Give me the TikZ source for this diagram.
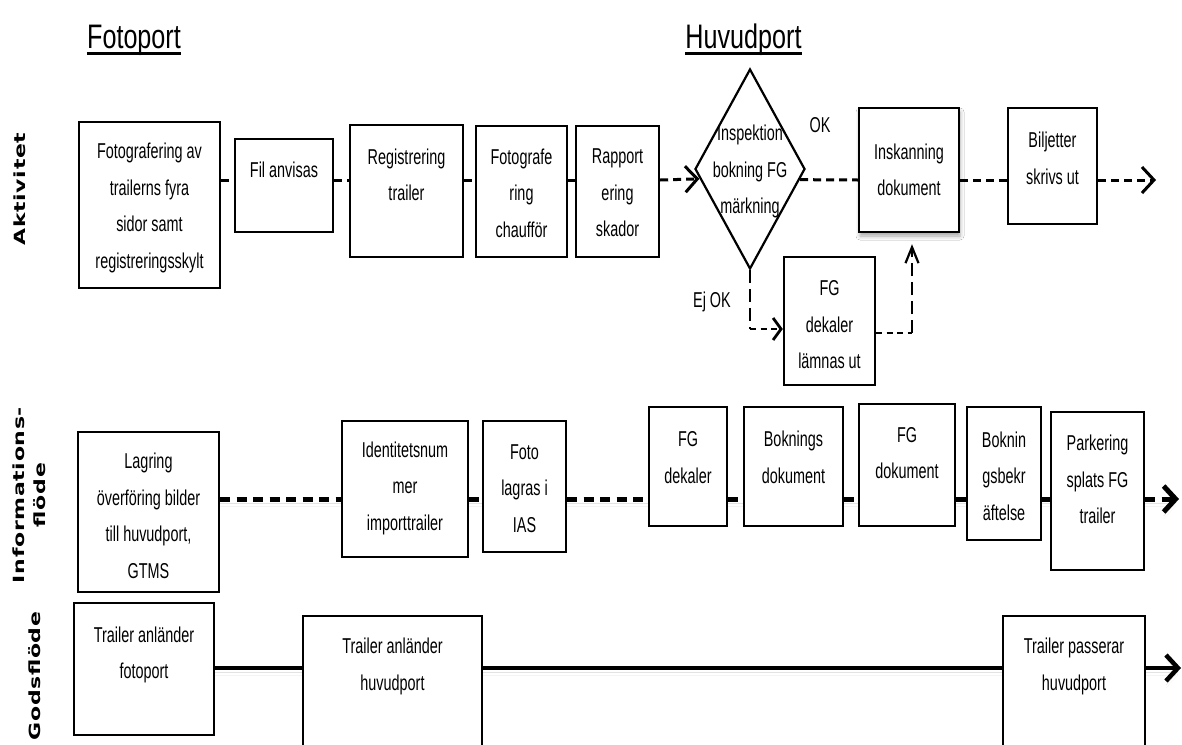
\documentclass[tikz,border=0pt]{standalone}
\usepackage{fontspec}
\usepackage{graphicx}
\usetikzlibrary{arrows.meta,shapes.geometric,shadows.blur}
\newfontfamily\boxfont{Liberation Sans}[FakeStretch=0.67]
\newfontfamily\titlefont{Liberation Sans}[FakeStretch=0.74]
\newfontfamily\sidefont{DejaVu Sans}[LetterSpace=3]

\tikzset{
  box/.style={draw, line width=2.4pt, fill=white, inner sep=0pt},
  gate/.style={diamond, draw, line width=2.2pt, fill=white, inner sep=0pt},
  txt/.style={font=\boxfont\fontsize{21.5}{36.5}\selectfont, align=center, inner sep=0pt},
  ttl/.style={font=\titlefont\fontsize{34}{38}\selectfont, inner sep=0pt, anchor=base},
  lane/.style={font=\sidefont\bfseries\fontsize{22}{21}\selectfont, rotate=90, align=center, inner sep=0pt},
  actflow/.style={line width=3pt, dash pattern=on 8pt off 5pt},
  actvert/.style={line width=2.2pt, dash pattern=on 13pt off 6pt},
  acthor/.style={line width=2.8pt, dash pattern=on 6pt off 4.5pt},
  infoflow/.style={line width=5pt, dash pattern=on 10pt off 6.5pt,
    preaction={draw=black!18, opacity=0.6, transform canvas={yshift=-4pt}},
    preaction={draw=black!8, opacity=0.5, transform canvas={yshift=-7pt}}},
  goodsflow/.style={line width=4.5pt,
    preaction={draw=black!18, opacity=0.6, transform canvas={yshift=-4pt}},
    preaction={draw=black!8, opacity=0.5, transform canvas={yshift=-7pt}}},
  tipH/.style={-{Straight Barb[length=12pt,width=26pt]}},
  tipS/.style={-{Straight Barb[length=8pt,width=22pt]}},
  tipV/.style={-{Straight Barb[length=16pt,width=13pt]}},
}

\begin{document}
\begin{tikzpicture}[x=1pt,y=-1pt]
\clip (0,0) rectangle (1182,744);
\fill[white] (0,0) rectangle (1182,744);

% lane levels of the connectors
\coordinate (r1) at (0,180);
\coordinate (r2) at (0,499);
\coordinate (r3) at (0,668);

% headings
\node[ttl] (T1) at (134,48) {Fotoport};
\node[ttl] (T2) at (743.5,48) {Huvudport};
\draw[line width=2.2pt] ([yshift=-5.5pt]T1.base west) -- ([yshift=-5.5pt]T1.base east);
\draw[line width=2.2pt] ([yshift=-5.5pt]T2.base west) -- ([yshift=-5.5pt]T2.base east);

% lane titles
\node[lane] (L1) at (20,189) {\scalebox{1}[0.7]{Aktivitet}};
\node[lane] (L2) at (29.5,495) {\scalebox{1}[0.7]{Informations-}\\\scalebox{1}[0.7]{flöde}};
\node[lane] (L3) at (34.5,676) {\scalebox{1}[0.7]{Godsflöde}};

% ---------- activities ----------
\node[box, minimum width=141pt, minimum height=166pt] (A1) at (149.5,205) {};
\node[txt] (A1t) at (149.5,208) {Fotografering av\\trailerns fyra\\sidor samt\\registreringsskylt};
\node[box, minimum width=98pt, minimum height=93pt] (A2) at (284,185.5) {};
\node[txt] (A2t) at (284,170) {Fil anvisas};
\node[box, minimum width=113pt, minimum height=132pt] (A3) at (406.5,191) {};
\node[txt] (A3t) at (406.5,175) {Registrering\\trailer};
\node[box, minimum width=91pt, minimum height=131pt] (A4) at (521.5,191.5) {};
\node[txt] (A4t) at (521.5,193) {Fotografe\\ring\\chaufför};
\node[box, minimum width=83pt, minimum height=131pt] (A5) at (617.5,191.5) {};
\node[txt] (A5t) at (617.5,193) {Rapport\\ering\\skador};
\node[gate, minimum width=110pt, minimum height=200pt] (D) at (750,169) {};
\node[txt] (Dt) at (750,171.5) {Inspektion\\bokning FG\\märkning};
\node[box, minimum width=100pt, minimum height=124pt,
  blur shadow={shadow xshift=1pt, shadow yshift=-4pt, shadow blur radius=4pt, shadow opacity=35}] (A6) at (909,170) {};
\node[txt] (A6t) at (909,170) {Inskanning\\dokument};
\node[box, minimum width=89pt, minimum height=116pt] (A7) at (1052.5,166) {};
\node[txt] (A7t) at (1052.5,158.5) {Biljetter\\skrivs ut};
\node[box, minimum width=91pt, minimum height=128pt] (A8) at (829.5,321) {};
\node[txt] (A8t) at (829.5,325) {FG\\dekaler\\lämnas ut};

\node[txt] (ok) at (820,125) {OK};
\node[txt] (ejok) at (712,302) {Ej OK};

\coordinate (aEnd) at (1156,180);
\coordinate (ejk) at (750,329);
\coordinate (upk) at (912,333);

\draw[actflow] (A1.east |- r1) -- (A2.west |- r1);
\draw[actflow] (A2.east |- r1) -- (A3.west |- r1);
\draw[actflow] (A3.east |- r1) -- (A4.west |- r1);
\draw[actflow] (A4.east |- r1) -- (A5.west |- r1);
\draw[actflow, tipH] (A5.east |- r1) -- (D.191.4);
\draw[actflow] (D.348.6) -- (A6.west |- r1);
\draw[actflow] (A6.east |- r1) -- (A7.west |- r1);
\draw[actflow, tipH] (A7.east |- r1) -- (aEnd);

\draw[actvert] (D.south) -- (ejk);
\draw[acthor, tipS] (ejk) -- (A8.west |- ejk);
\draw[acthor] (A8.east |- upk) -- (upk);
\draw[actvert, tipV] (upk) -- ([yshift=-11pt]A6.south -| upk);

% ---------- information flow ----------
\node[box, minimum width=141pt, minimum height=160pt] (I1) at (148.5,512) {};
\node[txt] (I1t) at (148.5,516) {Lagring\\överföring bilder\\till huvudport,\\GTMS};
\node[box, minimum width=126pt, minimum height=136pt] (I2) at (405,489) {};
\node[txt] (I2t) at (405,488) {Identitetsnum\\mer\\importtrailer};
\node[box, minimum width=83pt, minimum height=131pt] (I3) at (524.5,486.5) {};
\node[txt] (I3t) at (524.5,488.5) {Foto\\lagras i\\IAS};
\node[box, minimum width=78pt, minimum height=119pt] (I4) at (688,466.5) {};
\node[txt] (I4t) at (688,457.5) {FG\\dekaler};
\node[box, minimum width=99pt, minimum height=119pt] (I5) at (793.5,466.5) {};
\node[txt] (I5t) at (793.5,457.5) {Boknings\\dokument};
\node[box, minimum width=96pt, minimum height=122pt] (I6) at (907,465) {};
\node[txt] (I6t) at (907,453) {FG\\dokument};
\node[box, minimum width=74pt, minimum height=133pt] (I7) at (1004,473.5) {};
\node[txt] (I7t) at (1004,476) {Boknin\\gsbekr\\äftelse};
\node[box, minimum width=93pt, minimum height=158pt] (I8) at (1097.5,491) {};
\node[txt] (I8t) at (1097.5,479.5) {Parkering\\splats FG\\trailer};

\coordinate (iEnd) at (1179,499);
\draw[infoflow] (I1.east |- r2) -- (I2.west |- r2);
\draw[infoflow] (I2.east |- r2) -- (I3.west |- r2);
\draw[infoflow] (I3.east |- r2) -- (I4.west |- r2);
\draw[infoflow] (I4.east |- r2) -- (I5.west |- r2);
\draw[infoflow] (I5.east |- r2) -- (I6.west |- r2);
\draw[infoflow] (I6.east |- r2) -- (I7.west |- r2);
\draw[infoflow] (I7.east |- r2) -- (I8.west |- r2);
\draw[infoflow, tipH] (I8.east |- r2) -- (iEnd);

% ---------- goods flow ----------
\coordinate (gEnd) at (1181,668);
\node[box, minimum width=140pt, minimum height=132pt] (G1) at (144,669) {};
\node[txt] (G1t) at (144,655) {Trailer anländer\\fotoport};
\node[box, minimum width=179pt, minimum height=174pt] (G2) at (392.5,703) {};
\node[txt] (G2t) at (392.5,666.5) {Trailer anländer\\huvudport};
\node[box, minimum width=142pt, minimum height=174pt] (G3) at (1074,703) {};
\node[txt] (G3t) at (1074,666.5) {Trailer passerar\\huvudport};

\draw[goodsflow] (G1.east |- r3) -- (G2.west |- r3);
\draw[goodsflow] (G2.east |- r3) -- (G3.west |- r3);
\draw[goodsflow, tipH] (G3.east |- r3) -- (gEnd);
\end{tikzpicture}
\end{document}
